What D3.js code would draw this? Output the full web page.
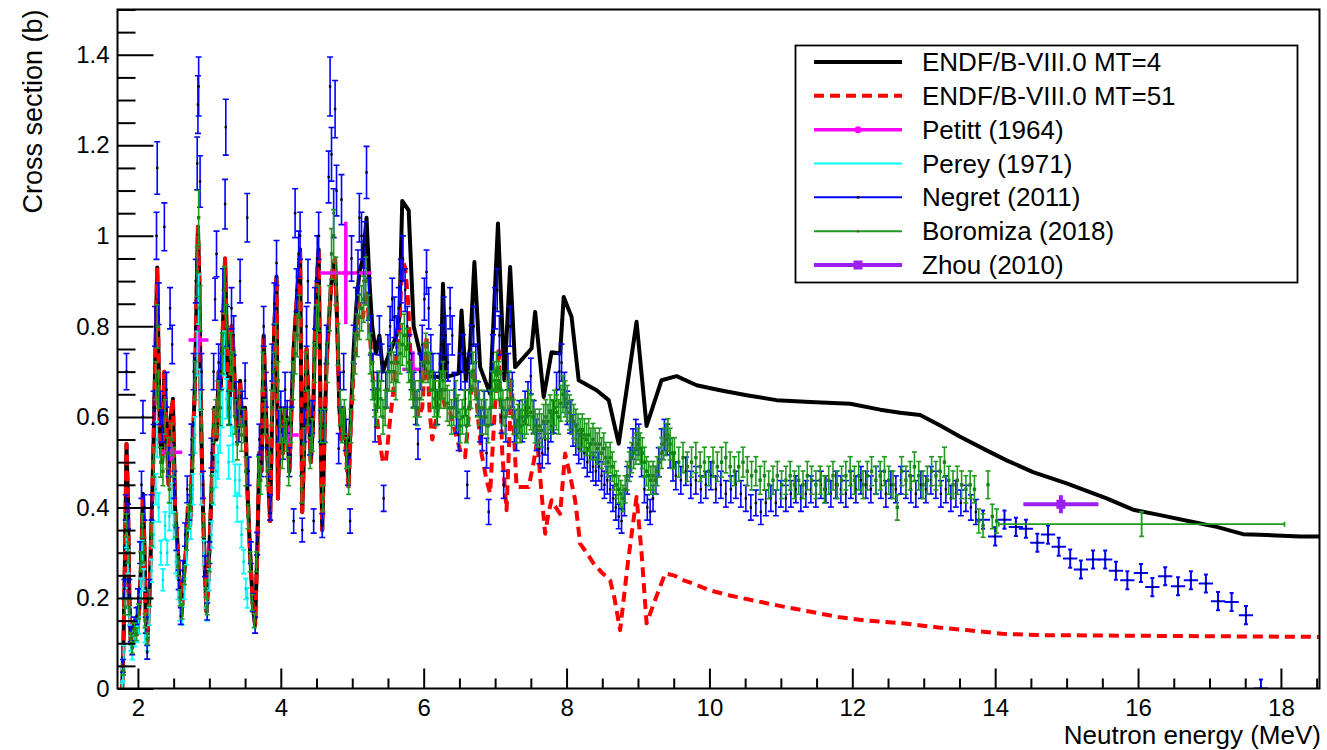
<!DOCTYPE html>
<html>
<head>
<meta charset="utf-8">
<script src="https://cdn.jsdelivr.net/npm/d3@7"></script>
<style>
  body { margin: 0; background: #fff; }
  text { font-family: "Liberation Sans", Arial, Helvetica, sans-serif; fill: #000; }
</style>
</head>
<body>
<svg id="chart" width="1327" height="750"></svg>
<script>
// ---------------- Evaluated cross sections (ENDF/B-VIII.0) ----------------
// [energy (MeV), cross section (b)] — region where MT=4 and MT=51 coincide
const endfResonance = [
  [1.78,0.00],[1.80,0.12],[1.82,0.30],[1.84,0.54],[1.86,0.42],[1.88,0.20],[1.90,0.10],[1.93,0.12],
  [1.96,0.15],[1.99,0.12],[2.02,0.18],[2.05,0.30],[2.07,0.43],[2.09,0.32],[2.11,0.15],[2.13,0.10],
  [2.16,0.20],[2.19,0.36],[2.22,0.55],[2.25,0.78],[2.27,0.93],[2.29,0.72],[2.31,0.55],[2.34,0.50],
  [2.37,0.70],[2.40,0.58],[2.43,0.45],[2.46,0.60],[2.49,0.64],[2.52,0.40],[2.55,0.33],[2.58,0.24],
  [2.61,0.16],[2.64,0.24],[2.67,0.30],[2.70,0.40],[2.73,0.36],[2.76,0.50],[2.80,0.68],[2.84,1.02],
  [2.86,0.90],[2.88,0.62],[2.91,0.40],[2.94,0.25],[2.96,0.17],[2.98,0.22],[3.01,0.35],[3.04,0.48],
  [3.07,0.62],[3.10,0.55],[3.13,0.70],[3.16,0.66],[3.19,0.80],[3.22,0.95],[3.25,0.72],[3.28,0.60],
  [3.31,0.80],[3.34,0.74],[3.37,0.60],[3.40,0.55],[3.43,0.68],[3.46,0.58],[3.50,0.62],[3.53,0.45],
  [3.57,0.30],[3.61,0.18],[3.64,0.14],[3.67,0.30],[3.70,0.52],[3.73,0.48],[3.76,0.78],[3.79,0.62],
  [3.82,0.48],[3.85,0.37],[3.88,0.62],[3.91,0.80],[3.94,0.91],[3.96,0.42],[3.99,0.62],[4.03,0.52],
  [4.06,0.62],[4.09,0.58],[4.12,0.48],[4.15,0.62],[4.18,0.75],[4.22,0.85],[4.25,0.92],[4.27,0.97],
  [4.30,0.39],[4.33,0.55],[4.36,0.75],[4.39,0.62],[4.42,0.50],[4.45,0.58],[4.48,0.80],[4.51,0.92],
  [4.53,0.97],[4.56,0.55],[4.58,0.35],[4.61,0.55],[4.64,0.72],[4.67,0.80],[4.70,0.88],[4.73,0.93],
  [4.76,0.95],[4.79,0.80],[4.82,0.62],[4.85,0.55],[4.88,0.62]
];
// MT=4 (total inelastic) above the region shared with MT=51
const mt4Upper = [
  [4.91,0.55],[4.95,0.46],[4.98,0.60],[5.02,0.75],[5.06,0.85],[5.10,0.92],[5.15,0.95],[5.20,1.04],
  [5.24,0.90],[5.28,0.80],[5.33,0.74],[5.38,0.78],[5.43,0.70],[5.47,0.72],[5.52,0.74],[5.57,0.76],
  [5.62,0.78],[5.66,0.82],[5.70,1.077],[5.79,1.056],[5.86,0.80],[5.95,0.74],[6.05,0.69],[6.24,0.688],
  [6.27,0.894],[6.31,0.688],[6.49,0.696],[6.53,0.835],[6.59,0.681],[6.65,0.754],[6.71,0.942],[6.79,0.710],
  [6.93,0.651],[7.04,1.027],[7.13,0.681],[7.21,0.931],[7.28,0.710],[7.51,0.751],[7.56,0.832],[7.68,0.644],
  [7.79,0.743],[7.91,0.740],[7.96,0.865],[8.07,0.821],[8.17,0.681],[8.42,0.659],[8.59,0.637],[8.73,0.541],
  [8.98,0.810],[9.12,0.580],[9.33,0.681],[9.54,0.690],[9.82,0.670],[10.15,0.659],[10.52,0.648],[10.94,0.637],
  [11.41,0.633],[11.97,0.629],[12.39,0.616],[12.67,0.609],[12.95,0.604],[13.23,0.581],[13.51,0.556],[13.88,0.526],
  [14.16,0.504],[14.53,0.478],[15.00,0.453],[15.56,0.420],[15.93,0.395],[16.31,0.383],[16.77,0.368],[17.10,0.357],
  [17.47,0.341],[17.80,0.339],[18.27,0.336],[18.54,0.336]
];
// MT=51 (first excited level) above the shared region
const mt51Upper = [
  [4.91,0.52],[4.95,0.44],[4.98,0.58],[5.02,0.70],[5.06,0.78],[5.10,0.85],[5.15,0.82],[5.20,0.88],
  [5.24,0.80],[5.28,0.70],[5.33,0.62],[5.38,0.55],[5.43,0.50],[5.47,0.50],[5.52,0.58],[5.57,0.65],
  [5.62,0.74],[5.66,0.80],[5.70,0.95],[5.74,0.93],[5.78,0.86],[5.82,0.72],[5.86,0.65],[5.92,0.60],
  [5.98,0.62],[6.04,0.78],[6.08,0.62],[6.12,0.55],[6.18,0.60],[6.25,0.66],[6.30,0.62],[6.37,0.61],
  [6.42,0.58],[6.46,0.556],[6.52,0.52],[6.58,0.511],[6.64,0.62],[6.70,0.71],[6.76,0.60],[6.81,0.519],
  [6.88,0.46],[6.93,0.431],[6.99,0.60],[7.05,0.754],[7.10,0.52],[7.16,0.394],[7.23,0.681],[7.30,0.445],
  [7.38,0.445],[7.47,0.445],[7.54,0.50],[7.59,0.548],[7.64,0.45],[7.70,0.342],[7.75,0.39],[7.79,0.416],
  [7.85,0.40],[7.91,0.386],[7.98,0.519],[8.05,0.47],[8.12,0.416],[8.19,0.320],[8.28,0.30],[8.38,0.276],
  [8.50,0.255],[8.61,0.239],[8.67,0.20],[8.75,0.129],[8.86,0.28],[8.98,0.423],[9.05,0.30],[9.12,0.144],
  [9.25,0.20],[9.38,0.254],[9.50,0.25],[9.64,0.239],[9.80,0.23],[10.0,0.217],[10.3,0.205],[10.6,0.195],
  [11.0,0.182],[11.4,0.170],[11.8,0.158],[12.2,0.150],[12.7,0.144],[13.2,0.135],[13.6,0.129],[14.1,0.121],
  [14.6,0.118],[15.5,0.117],[16.5,0.116],[17.5,0.115],[18.54,0.114]
];

// ---------------- Measurements ----------------
// Petitt (1964): [E, xs, dE, dxs]
const petitt = [
  [2.47,0.522,0.15,0.02],[2.848,0.770,0.14,0.03],[4.10,0.560,0.15,0.02],[4.91,0.918,0.36,0.113],[5.85,0.705,0.15,0.04]
];
// Perey (1971): [E, xs]
const perey = [
  [1.78,0.00],[1.79,0.03],[1.80,0.08],[1.82,0.20],[1.84,0.34],[1.86,0.28],[1.88,0.16],[1.90,0.10],
  [1.92,0.08],[1.95,0.11],[1.98,0.12],[2.01,0.14],[2.04,0.22],[2.06,0.30],[2.08,0.24],[2.10,0.12],
  [2.13,0.10],[2.16,0.16],[2.19,0.26],[2.22,0.34],[2.25,0.44],[2.27,0.55],[2.29,0.40],[2.32,0.30],
  [2.35,0.24],[2.38,0.36],[2.41,0.30],[2.44,0.38],[2.47,0.42],[2.50,0.36],[2.53,0.28],[2.56,0.22],
  [2.59,0.17],[2.62,0.16],[2.65,0.22],[2.68,0.30],[2.71,0.38],[2.74,0.36],[2.77,0.44],[2.80,0.56],
  [2.83,0.74],[2.85,0.86],[2.87,0.66],[2.89,0.44],[2.92,0.30],[2.95,0.20],[2.97,0.17],[3.00,0.24],
  [3.03,0.34],[3.06,0.44],[3.09,0.48],[3.12,0.50],[3.15,0.56],[3.18,0.62],[3.21,0.74],[3.24,0.64],
  [3.27,0.50],[3.30,0.60],[3.33,0.54],[3.36,0.46],[3.39,0.40],[3.42,0.46],[3.45,0.34],[3.48,0.28],
  [3.51,0.22],[3.53,0.20]
];
// Negret (2011): [E, xs]
const negret = [
  [1.79,0.05],[1.81,0.22],[1.83,0.40],[1.84,0.70],[1.86,0.38],[1.88,0.22],[1.90,0.12],[1.92,0.09],
  [1.95,0.14],[1.98,0.16],[2.00,0.20],[2.03,0.30],[2.05,0.45],[2.07,0.60],[2.09,0.40],[2.11,0.14],
  [2.13,0.08],[2.16,0.22],[2.19,0.40],[2.22,0.62],[2.24,0.80],[2.26,1.00],[2.27,1.15],[2.29,0.85],
  [2.31,0.62],[2.34,0.58],[2.37,1.02],[2.40,0.66],[2.43,0.50],[2.45,0.84],[2.48,0.76],[2.51,0.45],
  [2.54,0.33],[2.57,0.24],[2.60,0.16],[2.63,0.26],[2.66,0.34],[2.69,0.44],[2.72,0.40],[2.75,0.55],
  [2.78,0.70],[2.81,0.90],[2.83,1.16],[2.84,1.29],[2.85,1.33],[2.87,1.12],[2.89,0.70],[2.91,0.45],
  [2.94,0.27],[2.97,0.17],[3.00,0.30],[3.03,0.52],[3.06,0.70],[3.08,0.86],[3.10,0.96],[3.13,0.72],
  [3.16,0.70],[3.19,0.88],[3.22,1.07],[3.23,1.24],[3.25,0.80],[3.28,0.62],[3.31,0.84],[3.34,0.78],
  [3.37,0.64],[3.40,0.58],[3.43,0.90],[3.46,0.62],[3.50,0.68],[3.53,1.04],[3.55,0.48],[3.58,0.30],
  [3.61,0.19],[3.64,0.14],[3.67,0.32],[3.70,0.55],[3.73,0.50],[3.76,0.80],[3.79,0.66],[3.82,0.50],
  [3.85,0.40],[3.88,0.72],[3.91,0.85],[3.94,0.94],[3.97,0.58],[4.00,0.62],[4.03,0.54],[4.06,0.66],
  [4.09,0.60],[4.12,0.50],[4.15,0.66],[4.18,0.37],[4.20,1.05],[4.22,0.88],[4.25,0.96],[4.27,1.00],
  [4.30,0.35],[4.33,0.58],[4.36,0.80],[4.38,0.90],[4.41,0.55],[4.44,0.60],[4.46,0.37],[4.48,0.84],
  [4.51,0.95],[4.53,1.00],[4.56,0.58],[4.58,0.36],[4.61,0.58],[4.64,0.76],[4.67,1.13],[4.69,1.33],
  [4.71,1.18],[4.74,1.05],[4.76,1.28],[4.78,1.10],[4.81,0.53],[4.83,0.66],[4.85,1.08],[4.88,0.70],
  [4.91,0.56],[4.94,0.48],[4.97,0.37],[4.99,0.95],[5.02,0.76],[5.05,0.84],[5.08,0.92],[5.10,1.04],
  [5.13,1.00],[5.16,0.90],[5.18,0.98],[5.20,1.14],[5.23,0.86],[5.26,0.78],[5.29,0.70],[5.32,0.58],
  [5.35,0.66],[5.38,0.78],[5.41,0.72],[5.44,0.42],[5.47,0.66],[5.50,0.74],[5.53,0.80],[5.56,0.86],
  [5.59,0.82],[5.62,0.78],[5.65,0.84],[5.68,0.90],[5.71,0.95],[5.74,0.88],[5.77,0.80],[5.80,0.74],
  [5.83,0.70],[5.86,0.66],[5.89,0.62],[5.92,0.54],[5.95,0.70],[5.98,0.76],[6.01,0.86],[6.04,0.92],
  [6.07,0.84],[6.10,0.74],[6.13,0.70],[6.16,0.66],[6.19,0.62],[6.22,0.70],[6.25,0.76],[6.28,0.82],
  [6.31,0.78],[6.34,0.72],[6.37,0.84],[6.40,0.78],[6.43,0.66],[6.46,0.60],[6.49,0.56],[6.52,0.70],
  [6.55,0.74],[6.58,0.64],[6.61,0.45],[6.64,0.70],[6.67,0.76],[6.70,0.80],[6.73,0.72],[6.76,0.64],
  [6.79,0.58],[6.82,0.56],[6.85,0.62],[6.88,0.52],[6.91,0.39],[6.94,0.62],[6.97,0.74],[7.00,0.84],
  [7.03,0.88],[7.06,0.78],[7.09,0.60],[7.12,0.45],[7.15,0.58],[7.18,0.70],[7.21,0.80],[7.24,0.66],
  [7.27,0.58],[7.30,0.56],[7.34,0.60],[7.38,0.58],[7.42,0.62],[7.46,0.64],[7.50,0.69],[7.54,0.60],
  [7.58,0.56],[7.62,0.53],[7.66,0.52],[7.70,0.55],[7.74,0.53],[7.78,0.58],[7.82,0.60],[7.86,0.66],
  [7.90,0.70],[7.93,0.72],[7.97,0.66],[8.01,0.62],[8.05,0.60],[8.09,0.57],[8.13,0.55],[8.17,0.53],
  [8.21,0.54],[8.25,0.52],[8.29,0.50],[8.33,0.51],[8.37,0.49],[8.41,0.48],[8.45,0.49],[8.49,0.47],
  [8.53,0.45],[8.57,0.46],[8.61,0.44],[8.65,0.42],[8.69,0.40],[8.73,0.38],[8.77,0.37],[8.81,0.41],
  [8.85,0.46],[8.89,0.50],[8.93,0.54],[8.97,0.56],[9.01,0.55],[9.05,0.50],[9.09,0.44],[9.13,0.40],
  [9.17,0.39],[9.21,0.42],[9.25,0.46],[9.29,0.50],[9.33,0.54],[9.37,0.56],[9.41,0.55],[9.45,0.52],
  [9.49,0.49],[9.53,0.47],[9.60,0.46],[9.67,0.48],[9.74,0.45],[9.81,0.46],[9.88,0.44],[9.95,0.45],
  [10.02,0.47],[10.09,0.44],[10.16,0.45],[10.23,0.43],[10.30,0.44],[10.37,0.45],[10.44,0.43],[10.51,0.42],
  [10.58,0.40],[10.65,0.41],[10.72,0.39],[10.79,0.41],[10.86,0.42],[10.93,0.41],[11.00,0.43],[11.07,0.42],
  [11.14,0.43],[11.21,0.44],[11.28,0.42],[11.35,0.43],[11.42,0.44],[11.49,0.43],[11.56,0.45],[11.63,0.44],
  [11.70,0.43],[11.77,0.45],[11.84,0.44],[11.91,0.43],[11.98,0.45],[12.05,0.44],[12.12,0.46],[12.19,0.45],
  [12.26,0.44],[12.33,0.46],[12.40,0.45],[12.47,0.43],[12.54,0.45],[12.61,0.44],[12.68,0.46],[12.75,0.45],
  [12.82,0.44],[12.89,0.43],[12.96,0.45],[13.03,0.44],[13.10,0.46],[13.17,0.45],[13.24,0.43],[13.31,0.44],
  [13.38,0.42],[13.45,0.43],[13.52,0.41],[13.59,0.42],[13.66,0.40],[13.73,0.39]
];
// Negret (2011), binned points above 13.8 MeV: [E, xs]
const negretTail = [
  [13.83,0.373],[14.00,0.336],[14.13,0.373],[14.29,0.357],[14.43,0.353],[14.59,0.322],[14.74,0.340],
  [14.89,0.313],[15.05,0.287],[15.20,0.263],[15.37,0.285],[15.54,0.285],[15.69,0.260],[15.85,0.239],
  [16.04,0.255],[16.20,0.224],[16.38,0.248],[16.56,0.226],[16.74,0.239],[16.95,0.232],[17.12,0.193],
  [17.31,0.191],[17.51,0.162],[17.72,0.000]
];
// Boromiza (2018): [E, xs]
const boromiza = [
  [1.80,0.04],[1.82,0.18],[1.84,0.36],[1.86,0.30],[1.88,0.18],[1.90,0.11],[1.92,0.09],[1.95,0.13],
  [1.98,0.12],[2.01,0.17],[2.04,0.28],[2.06,0.36],[2.08,0.30],[2.10,0.15],[2.13,0.11],[2.16,0.20],
  [2.19,0.34],[2.22,0.50],[2.25,0.68],[2.27,0.80],[2.29,0.66],[2.32,0.50],[2.35,0.48],[2.38,0.60],
  [2.41,0.52],[2.44,0.44],[2.47,0.55],[2.50,0.50],[2.53,0.36],[2.56,0.27],[2.59,0.20],[2.62,0.17],
  [2.65,0.25],[2.68,0.33],[2.71,0.38],[2.74,0.42],[2.77,0.52],[2.80,0.68],[2.83,0.92],[2.85,1.04],
  [2.87,0.84],[2.89,0.58],[2.92,0.36],[2.95,0.22],[2.97,0.18],[3.00,0.28],[3.03,0.44],[3.06,0.58],
  [3.09,0.60],[3.12,0.64],[3.15,0.62],[3.18,0.74],[3.21,0.88],[3.24,0.80],[3.27,0.62],[3.30,0.74],
  [3.33,0.70],[3.36,0.60],[3.39,0.54],[3.42,0.62],[3.45,0.56],[3.48,0.58],[3.51,0.48],[3.54,0.38],
  [3.57,0.28],[3.60,0.19],[3.63,0.15],[3.66,0.28],[3.69,0.48],[3.72,0.46],[3.75,0.70],[3.78,0.60],
  [3.81,0.48],[3.84,0.52],[3.87,0.62],[3.90,0.70],[3.93,0.76],[3.96,0.68],[3.99,0.58],[4.02,0.52],
  [4.05,0.58],[4.08,0.56],[4.11,0.48],[4.14,0.58],[4.17,0.68],[4.20,0.74],[4.23,0.78],[4.26,0.82],
  [4.29,0.44],[4.32,0.54],[4.35,0.70],[4.38,0.62],[4.41,0.52],[4.44,0.56],[4.47,0.72],[4.50,0.80],
  [4.53,0.84],[4.56,0.58],[4.59,0.42],[4.62,0.58],[4.65,0.72],[4.68,0.84],[4.71,0.96],[4.74,1.00],
  [4.77,0.90],[4.80,0.76],[4.83,0.62],[4.86,0.58],[4.89,0.60],[4.92,0.52],[4.95,0.46],[4.98,0.58],
  [5.01,0.68],[5.04,0.74],[5.07,0.78],[5.10,0.82],[5.13,0.84],[5.16,0.86],[5.19,0.90],[5.22,0.82],
  [5.25,0.74],[5.28,0.68],[5.31,0.64],[5.34,0.62],[5.37,0.66],[5.40,0.64],[5.43,0.60],[5.46,0.62],
  [5.49,0.66],[5.52,0.70],[5.55,0.72],[5.58,0.70],[5.61,0.68],[5.64,0.72],[5.67,0.74],[5.70,0.76],
  [5.73,0.78],[5.76,0.75],[5.79,0.72],[5.82,0.68],[5.85,0.66],[5.88,0.64],[5.91,0.62],[5.94,0.64],
  [5.97,0.68],[6.00,0.72],[6.03,0.74],[6.06,0.72],[6.09,0.70],[6.12,0.66],[6.15,0.64],[6.18,0.62],
  [6.21,0.64],[6.24,0.66],[6.27,0.68],[6.30,0.66],[6.33,0.63],[6.36,0.62],[6.39,0.60],[6.42,0.62],
  [6.45,0.64],[6.48,0.61],[6.51,0.58],[6.54,0.60],[6.57,0.62],[6.60,0.58],[6.63,0.62],[6.66,0.66],
  [6.69,0.70],[6.72,0.68],[6.75,0.64],[6.78,0.62],[6.81,0.60],[6.84,0.62],[6.87,0.60],[6.90,0.58],
  [6.93,0.62],[6.96,0.66],[6.99,0.68],[7.02,0.70],[7.05,0.68],[7.08,0.66],[7.11,0.62],[7.14,0.60],
  [7.17,0.64],[7.20,0.66],[7.23,0.64],[7.26,0.60],[7.29,0.58],[7.32,0.59],[7.35,0.58],[7.38,0.60],
  [7.41,0.59],[7.44,0.60],[7.47,0.62],[7.50,0.61],[7.53,0.60],[7.56,0.58],[7.59,0.57],[7.62,0.58],
  [7.65,0.57],[7.68,0.59],[7.71,0.60],[7.74,0.59],[7.77,0.61],[7.80,0.60],[7.83,0.62],[7.86,0.61],
  [7.89,0.60],[7.92,0.63],[7.95,0.65],[7.98,0.64],[8.01,0.63],[8.04,0.61],[8.07,0.60],[8.10,0.59],
  [8.13,0.58],[8.16,0.57],[8.19,0.56],[8.22,0.57],[8.25,0.56],[8.28,0.55],[8.31,0.56],[8.34,0.54],
  [8.37,0.55],[8.40,0.54],[8.43,0.53],[8.46,0.54],[8.49,0.52],[8.52,0.53],[8.55,0.51],[8.58,0.50],
  [8.61,0.51],[8.64,0.49],[8.67,0.47],[8.70,0.45],[8.73,0.44],[8.76,0.43],[8.79,0.42],[8.82,0.44],
  [8.85,0.47],[8.88,0.49],[8.91,0.51],[8.94,0.52],[8.97,0.53],[9.00,0.54],[9.03,0.53],[9.06,0.52],
  [9.09,0.50],[9.12,0.48],[9.15,0.47],[9.18,0.46],[9.21,0.47],[9.24,0.46],[9.27,0.48],[9.30,0.50],
  [9.33,0.52],[9.36,0.54],[9.39,0.55],[9.42,0.56],[9.45,0.54],[9.48,0.52],[9.51,0.52],[9.57,0.50],
  [9.63,0.51],[9.69,0.49],[9.75,0.50],[9.81,0.51],[9.87,0.49],[9.93,0.50],[9.99,0.48],[10.05,0.50],
  [10.11,0.49],[10.17,0.50],[10.23,0.51],[10.29,0.49],[10.35,0.48],[10.41,0.49],[10.47,0.50],[10.53,0.48],
  [10.59,0.47],[10.65,0.48],[10.71,0.46],[10.77,0.47],[10.83,0.45],[10.89,0.46],[10.95,0.47],[11.01,0.45],
  [11.07,0.46],[11.13,0.47],[11.19,0.45],[11.25,0.46],[11.31,0.45],[11.37,0.47],[11.43,0.46],[11.49,0.45],
  [11.55,0.46],[11.61,0.44],[11.67,0.46],[11.73,0.47],[11.79,0.45],[11.85,0.46],[11.91,0.47],[11.97,0.48],
  [12.03,0.46],[12.09,0.47],[12.15,0.45],[12.21,0.47],[12.27,0.48],[12.33,0.46],[12.39,0.47],[12.45,0.48],
  [12.51,0.46],[12.57,0.45],[12.63,0.40],[12.69,0.48],[12.75,0.46],[12.81,0.47],[12.87,0.49],[12.93,0.47],
  [12.99,0.45],[13.05,0.46],[13.11,0.48],[13.17,0.47],[13.23,0.48],[13.29,0.50],[13.35,0.46],[13.41,0.45],
  [13.47,0.46],[13.53,0.45],[13.59,0.44],[13.65,0.45],[13.71,0.44],[13.77,0.37],[13.83,0.36],[13.90,0.45],
  [13.96,0.38],[14.02,0.37]
];
// Boromiza (2018), wide bin: [E, xs, dE, dxs]
const boromizaWide = [[16.05,0.363,2.0,0.027]];
// Zhou (2010): [E, xs, dE, dxs]
const zhou = [[14.92,0.407,0.525,0.02]];

// Quoted uncertainties of the dense data sets (absolute + relative part)
const pereyUnc = { abs: 0.012, rel: 0.05 };
const negretUnc = { abs: 0.012, rel: 0.04 };
const negretTailUnc = { dE: 0.1, dXS: 0.02 };
const boromizaUnc = { abs: 0.008, rel: 0.05 };

// Axis ticks
const xMajorTicks = [2, 4, 6, 8, 10, 12, 14, 16, 18];
const yMajorTicks = [0, 0.2, 0.4, 0.6, 0.8, 1, 1.2, 1.4];
const xTitle = "Neutron energy (MeV)";
const yTitle = "Cross section (b)";

const legendEntries = [
  { label: "ENDF/B-VIII.0 MT=4", key: "mt4" },
  { label: "ENDF/B-VIII.0 MT=51", key: "mt51" },
  { label: "Petitt (1964)", key: "petitt" },
  { label: "Perey (1971)", key: "perey" },
  { label: "Negret (2011)", key: "negret" },
  { label: "Boromiza (2018)", key: "boromiza" },
  { label: "Zhou (2010)", key: "zhou" }
];

// ---------------- Drawing ----------------
const svg = d3.select("#chart");
const frame = { left: 117.5, right: 1319.5, top: 9.5, bottom: 688.5 };

const x = d3.scaleLinear().domain([1.714, 18.54]).range([frame.left, frame.right]);
const y = d3.scaleLinear().domain([0, 1.5]).range([frame.bottom, frame.top]);

const colors = {
  mt4: "#000000", mt51: "#ff0000", petitt: "#ff00ff", perey: "#00ffff",
  negret: "#0000ff", boromiza: "#1f9a1f", zhou: "#9a1ff0"
};

svg.append("rect").attr("width", 1327).attr("height", 750).attr("fill", "#fff");

svg.append("defs").append("clipPath").attr("id", "plotClip")
  .append("rect")
  .attr("x", frame.left).attr("y", frame.top)
  .attr("width", frame.right - frame.left).attr("height", frame.bottom - frame.top);

const plot = svg.append("g").attr("clip-path", "url(#plotClip)");

function toPoints(arr, unc) {
  return arr.map(([e, v]) => ({ e, v, de: 0, dv: unc.abs + unc.rel * v }));
}

// error bars with end caps and an optional marker
function drawErrors(layer, pts, o) {
  const g = layer.append("g");
  const lines = g.append("g").attr("stroke", o.color).attr("stroke-width", o.width).attr("fill", "none");
  const cap = o.cap || 0;
  const withV = pts.filter(p => p.dv > 0);
  const withH = pts.filter(p => p.de > 0);
  lines.selectAll("line.v").data(withV).join("line").attr("class", "v")
    .attr("x1", p => x(p.e)).attr("x2", p => x(p.e))
    .attr("y1", p => y(p.v - p.dv)).attr("y2", p => y(p.v + p.dv));
  if (cap > 0) {
    lines.selectAll("line.ct").data(withV).join("line").attr("class", "ct")
      .attr("x1", p => x(p.e) - cap).attr("x2", p => x(p.e) + cap)
      .attr("y1", p => y(p.v + p.dv)).attr("y2", p => y(p.v + p.dv));
    lines.selectAll("line.cb").data(withV).join("line").attr("class", "cb")
      .attr("x1", p => x(p.e) - cap).attr("x2", p => x(p.e) + cap)
      .attr("y1", p => y(p.v - p.dv)).attr("y2", p => y(p.v - p.dv));
  }
  lines.selectAll("line.h").data(withH).join("line").attr("class", "h")
    .attr("x1", p => x(p.e - p.de)).attr("x2", p => x(p.e + p.de))
    .attr("y1", p => y(p.v)).attr("y2", p => y(p.v));
  if (o.hcap) {
    lines.selectAll("line.hl").data(withH).join("line").attr("class", "hl")
      .attr("x1", p => x(p.e - p.de)).attr("x2", p => x(p.e - p.de))
      .attr("y1", p => y(p.v) - o.hcap).attr("y2", p => y(p.v) + o.hcap);
    lines.selectAll("line.hr").data(withH).join("line").attr("class", "hr")
      .attr("x1", p => x(p.e + p.de)).attr("x2", p => x(p.e + p.de))
      .attr("y1", p => y(p.v) - o.hcap).attr("y2", p => y(p.v) + o.hcap);
  }
  if (o.marker) {
    const s = o.marker.size;
    if (o.marker.shape === "circle") {
      g.selectAll("circle").data(pts).join("circle")
        .attr("cx", p => x(p.e)).attr("cy", p => y(p.v)).attr("r", s / 2)
        .attr("fill", o.marker.color);
    } else {
      g.selectAll("rect").data(pts).join("rect")
        .attr("x", p => x(p.e) - s / 2).attr("y", p => y(p.v) - s / 2)
        .attr("width", s).attr("height", s).attr("fill", o.marker.color);
    }
  }
}

// evaluations first, measurements drawn over them in legend order
const line = d3.line().x(d => x(d[0])).y(d => y(d[1]));
plot.append("path").datum(endfResonance.concat(mt4Upper))
  .attr("d", line).attr("fill", "none").attr("stroke", colors.mt4)
  .attr("stroke-width", 4).attr("stroke-linejoin", "round");
plot.append("path").datum(endfResonance.concat(mt51Upper))
  .attr("d", line).attr("fill", "none").attr("stroke", colors.mt51)
  .attr("stroke-width", 4).attr("stroke-dasharray", "10,6").attr("stroke-linejoin", "round");

drawErrors(plot, petitt.map(([e, v, de, dv]) => ({ e, v, de, dv })),
  { color: colors.petitt, width: 3.5, marker: { shape: "circle", size: 6, color: colors.petitt } });
drawErrors(plot, toPoints(perey, pereyUnc), { color: colors.perey, width: 1.8, cap: 2.5,
  marker: { shape: "rect", size: 2.5, color: "#00d8d8" } });
drawErrors(plot, toPoints(negret, negretUnc), { color: colors.negret, width: 1.6, cap: 3,
  marker: { shape: "rect", size: 2.4, color: "#000" } });
drawErrors(plot, negretTail.map(([e, v]) => ({ e, v, de: negretTailUnc.dE, dv: negretTailUnc.dXS })),
  { color: colors.negret, width: 2, cap: 2, marker: { shape: "rect", size: 1.8, color: "#000" } });
drawErrors(plot, toPoints(boromiza, boromizaUnc), { color: colors.boromiza, width: 1.6, cap: 2.5,
  marker: { shape: "rect", size: 3.4, color: "#1a801a" } });
drawErrors(plot, boromizaWide.map(([e, v, de, dv]) => ({ e, v, de, dv })),
  { color: colors.boromiza, width: 1.8, cap: 2.5, hcap: 2.5 });
drawErrors(plot, zhou.map(([e, v, de, dv]) => ({ e, v, de, dv })),
  { color: colors.zhou, width: 4, marker: { shape: "rect", size: 9, color: colors.zhou } });

// ---------------- Axes ----------------
const axes = svg.append("g");
const fmt = d => String(+d.toFixed(1));

const xMinor = d3.range(2, 18.51, 0.5).filter(v => !xMajorTicks.includes(v));
const yMinor = d3.range(0, 1.501, 0.05).map(v => +v.toFixed(2))
  .filter(v => !yMajorTicks.some(t => Math.abs(t - v) < 1e-6));

axes.append("g").attr("transform", `translate(0,${frame.bottom})`)
  .call(d3.axisBottom(x).tickValues(xMajorTicks).tickFormat(fmt).tickSizeInner(-20).tickSizeOuter(0).tickPadding(10));
axes.append("g").attr("transform", `translate(0,${frame.bottom})`)
  .call(d3.axisBottom(x).tickValues(xMinor).tickFormat("").tickSizeInner(-10).tickSizeOuter(0));
axes.append("g").attr("transform", `translate(${frame.left},0)`)
  .call(d3.axisLeft(y).tickValues(yMajorTicks).tickFormat(fmt).tickSizeInner(-36).tickSizeOuter(0).tickPadding(8));
axes.append("g").attr("transform", `translate(${frame.left},0)`)
  .call(d3.axisLeft(y).tickValues(yMinor).tickFormat("").tickSizeInner(-18).tickSizeOuter(0));

axes.selectAll(".domain").remove();
axes.selectAll(".tick line").attr("stroke", "#000").attr("stroke-width", 2);
axes.selectAll(".tick text").attr("font-size", 24).attr("fill", "#000")
  .attr("font-family", "'Liberation Sans', Arial, sans-serif");

svg.append("rect")
  .attr("x", frame.left).attr("y", frame.top)
  .attr("width", frame.right - frame.left).attr("height", frame.bottom - frame.top)
  .attr("fill", "none").attr("stroke", "#000").attr("stroke-width", 2);

svg.append("text").attr("x", 1321).attr("y", 744).attr("text-anchor", "end")
  .attr("font-size", 26).text(xTitle);
svg.append("text").attr("transform", `translate(41.5,${frame.top}) rotate(-90)`)
  .attr("text-anchor", "end").attr("font-size", 27).text(yTitle);

// ---------------- Legend ----------------
const leg = svg.append("g");
leg.append("rect").attr("x", 795.5).attr("y", 45.5).attr("width", 502).attr("height", 237)
  .attr("fill", "#fff").attr("stroke", "#000").attr("stroke-width", 1.8);

const rowY = d3.scalePoint().domain(legendEntries.map(d => d.key)).range([62, 265]);
const lx0 = 814, lx1 = 902, lxm = (lx0 + lx1) / 2;
legendEntries.forEach(en => {
  const yy = rowY(en.key);
  const g = leg.append("g");
  const ln = g.append("line").attr("x1", lx0).attr("x2", lx1).attr("y1", yy).attr("y2", yy)
    .attr("stroke", colors[en.key]);
  if (en.key === "mt4") ln.attr("stroke-width", 4);
  if (en.key === "mt51") ln.attr("stroke-width", 4).attr("stroke-dasharray", "10,6");
  if (en.key === "petitt") {
    ln.attr("stroke-width", 3.5);
    g.append("circle").attr("cx", lxm).attr("cy", yy).attr("r", 3.5).attr("fill", colors.petitt);
  }
  if (en.key === "perey") ln.attr("stroke-width", 2);
  if (en.key === "negret") {
    ln.attr("stroke-width", 2);
    g.append("rect").attr("x", lxm - 1.2).attr("y", yy - 1.2).attr("width", 2.4).attr("height", 2.4).attr("fill", "#000");
  }
  if (en.key === "boromiza") {
    ln.attr("stroke-width", 2);
    g.append("rect").attr("x", lxm - 1.2).attr("y", yy - 1.2).attr("width", 2.4).attr("height", 2.4).attr("fill", "#555");
  }
  if (en.key === "zhou") {
    ln.attr("stroke-width", 4);
    g.append("rect").attr("x", lxm - 4.5).attr("y", yy - 4.5).attr("width", 9).attr("height", 9).attr("fill", colors.zhou);
  }
  g.append("text").attr("x", 922).attr("y", yy + 9).attr("font-size", 26).text(en.label);
});
</script>
</body>
</html>
